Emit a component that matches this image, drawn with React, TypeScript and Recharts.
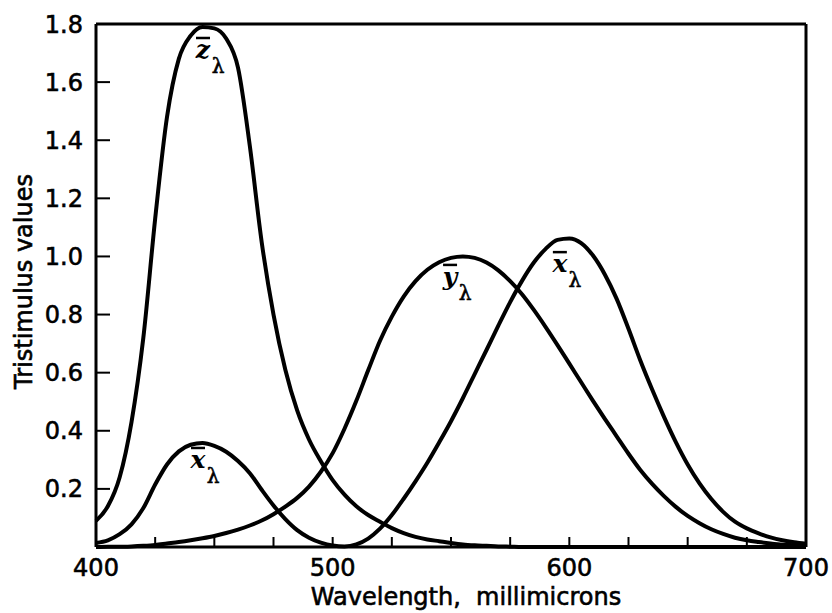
import { LineChart, Line, XAxis, YAxis, ReferenceDot } from 'recharts'

// wavelength, millimicrons
const wavelengths = [
  400, 405, 410, 415, 420, 425, 430, 435, 440, 445, 450, 455, 460, 465, 470, 475,
  480, 485, 490, 495, 500, 505, 510, 515, 520, 525, 530, 535, 540, 545, 550, 555,
  560, 565, 570, 575, 580, 585, 590, 595, 600, 605, 610, 615, 620, 625, 630, 635,
  640, 645, 650, 655, 660, 665, 670, 675, 680, 685, 690, 695, 700,
]

const xBar = [
  0.014, 0.023, 0.044, 0.078, 0.134, 0.215, 0.284, 0.329, 0.352, 0.358, 0.348, 0.328,
  0.296, 0.254, 0.197, 0.143, 0.096, 0.058, 0.032, 0.015, 0.005, 0.002, 0.009, 0.029,
  0.063, 0.11, 0.166, 0.226, 0.29, 0.36, 0.433, 0.512, 0.595, 0.678, 0.762, 0.843,
  0.916, 0.979, 1.026, 1.057, 1.062, 1.046, 1.003, 0.938, 0.854, 0.751, 0.642, 0.542,
  0.448, 0.361, 0.284, 0.219, 0.165, 0.121, 0.087, 0.064, 0.047, 0.033, 0.023, 0.016,
  0.011,
]

const yBar = [
  0.0, 0.001, 0.001, 0.002, 0.004, 0.007, 0.012, 0.017, 0.023, 0.03, 0.038, 0.048,
  0.06, 0.074, 0.091, 0.113, 0.139, 0.169, 0.208, 0.259, 0.323, 0.407, 0.503, 0.608,
  0.71, 0.793, 0.862, 0.915, 0.954, 0.98, 0.995, 1.0, 0.995, 0.979, 0.952, 0.915,
  0.87, 0.816, 0.757, 0.695, 0.631, 0.567, 0.503, 0.441, 0.381, 0.321, 0.265, 0.217,
  0.175, 0.138, 0.107, 0.082, 0.061, 0.045, 0.032, 0.023, 0.017, 0.012, 0.008, 0.006,
  0.004,
]

const zBar = [
  0.09, 0.14, 0.24, 0.43, 0.72, 1.13, 1.48, 1.68, 1.76, 1.79, 1.785, 1.75, 1.65, 1.38,
  1.05, 0.8, 0.61, 0.47, 0.37, 0.295, 0.23, 0.18, 0.14, 0.11, 0.087, 0.065, 0.048,
  0.035, 0.026, 0.02, 0.014, 0.009, 0.006, 0.004, 0.002, 0.001, 0, 0, 0, 0, 0, 0, 0,
  0, 0, 0, 0, 0, 0, 0, 0, 0, 0, 0, 0, 0, 0, 0, 0, 0, 0,
]

const xTicks = [400, 425, 450, 475, 500, 525, 550, 575, 600, 625, 650, 675, 700]
const yTicks = [0.2, 0.4, 0.6, 0.8, 1.0, 1.2, 1.4, 1.6, 1.8]

// curve labels: letter, wavelength, value
const curveLabels = [
  { letter: 'z', wl: 445.2, v: 1.683 },
  { letter: 'x', wl: 443.1, v: 0.272 },
  { letter: 'y', wl: 549.6, v: 0.902 },
  { letter: 'x', wl: 596.0, v: 0.946 },
]

const data = wavelengths.map((wl, i) => ({
  wl,
  x: xBar[i],
  y: yBar[i],
  z: zBar[i],
}))

const FONT = 'DejaVu Sans'
const tickStyle = { fill: '#000', fontSize: 24, fontFamily: FONT, stroke: '#000', strokeWidth: 0.6 }
const axisLine = { stroke: '#000', strokeWidth: 3 }
const tickLine = { stroke: '#000', strokeWidth: 2 }
const blank = () => ''

function CurveLabel({ viewBox, letter }: any) {
  const cx = viewBox.x + viewBox.width / 2
  const cy = viewBox.y + viewBox.height / 2
  return (
    <g>
      <text
        x={cx}
        y={cy}
        textAnchor="middle"
        fontFamily="DejaVu Serif"
        fontStyle="italic"
        fontWeight="bold"
        fontSize={25}
        fill="#000"
      >
        {letter}
      </text>
      <line x1={cx - 7} x2={cx + 7} y1={cy - 20} y2={cy - 20} stroke="#000" strokeWidth={2.5} />
      <text
        x={cx + 15}
        y={cy + 15}
        textAnchor="middle"
        fontFamily="DejaVu Serif"
        fontSize={20}
        fill="#000"
        stroke="#000"
        strokeWidth={0.6}
      >
        λ
      </text>
    </g>
  )
}

export default function App() {
  return (
    <div style={{ position: 'absolute', left: 0, top: 0, width: 832, height: 613, background: '#fff' }}>
      <LineChart width={832} height={613} data={data} margin={{ top: 0, right: 0, bottom: 0, left: 0 }}>
        <XAxis
          dataKey="wl"
          type="number"
          domain={[400, 700]}
          ticks={xTicks}
          interval={0}
          height={66}
          tickSize={-10}
          tickMargin={22}
          tick={tickStyle}
          axisLine={axisLine}
          tickLine={tickLine}
          tickFormatter={(v) => (v % 100 === 0 ? String(v) : '')}
          label={{
            content: ({ viewBox }: any) => (
              <text
                x={viewBox.x + viewBox.width / 2 + 15}
                y={viewBox.y + 58}
                textAnchor="middle"
                fontFamily={FONT}
                fontSize={24}
                fill="#000"
                stroke="#000"
                strokeWidth={0.6}
              >
                {'Wavelength,\u00a0 millimicrons'}
              </text>
            ),
          }}
        />
        <XAxis
          xAxisId="top"
          orientation="top"
          type="number"
          domain={[400, 700]}
          ticks={xTicks}
          interval={0}
          height={24}
          tickSize={-10}
          tickFormatter={blank}
          axisLine={axisLine}
          tickLine={tickLine}
        />
        <YAxis
          type="number"
          domain={[0, 1.8]}
          ticks={yTicks}
          interval={0}
          width={96}
          tickSize={-14}
          tickMargin={27}
          tick={tickStyle}
          axisLine={axisLine}
          tickLine={tickLine}
          tickFormatter={(v) => v.toFixed(1)}
          label={{
            content: ({ viewBox }: any) => {
              const cx = viewBox.x + 24
              const cy = viewBox.y + viewBox.height / 2 - 4
              return (
                <text
                  x={cx}
                  y={cy}
                  transform={`rotate(-90 ${cx} ${cy})`}
                  textAnchor="middle"
                  dominantBaseline="central"
                  fontFamily={FONT}
                  fontSize={24}
                  fill="#000"
                  stroke="#000"
                  strokeWidth={0.6}
                >
                  Tristimulus values
                </text>
              )
            },
          }}
        />
        <YAxis
          yAxisId="right"
          orientation="right"
          type="number"
          domain={[0, 1.8]}
          ticks={yTicks}
          interval={0}
          width={26}
          tickSize={-16}
          tickFormatter={blank}
          axisLine={axisLine}
          tickLine={tickLine}
        />
        <Line type="monotone" dataKey="z" stroke="#000" strokeWidth={4} dot={false} isAnimationActive={false} />
        <Line type="monotone" dataKey="x" stroke="#000" strokeWidth={4} dot={false} isAnimationActive={false} />
        <Line type="monotone" dataKey="y" stroke="#000" strokeWidth={4} dot={false} isAnimationActive={false} />
        {curveLabels.map((c, i) => (
          <ReferenceDot
            key={i}
            x={c.wl}
            y={c.v}
            r={0}
            fill="none"
            stroke="none"
            label={{ content: (p: any) => <CurveLabel viewBox={p.viewBox} letter={c.letter} /> }}
          />
        ))}
      </LineChart>
    </div>
  )
}
